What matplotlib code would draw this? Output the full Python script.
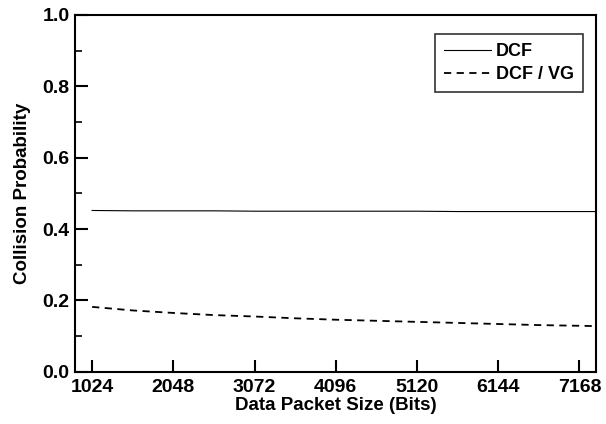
import matplotlib.pyplot as plt
import numpy as np
from matplotlib.ticker import MultipleLocator

# packet sizes (bits) and collision probabilities
packetSize = [1024, 1536, 2048, 2560, 3072, 3584, 4096, 4608, 5120, 5632, 6144, 6656, 7168, 7424]
dcf = [0.452, 0.451, 0.451, 0.451, 0.450, 0.450, 0.450, 0.450, 0.450, 0.449, 0.449, 0.449, 0.449, 0.449]
dcfVg = [0.182, 0.172, 0.165, 0.159, 0.155, 0.150, 0.146, 0.143, 0.140, 0.137, 0.134, 0.131, 0.129, 0.128]
xTicks = [1024, 2048, 3072, 4096, 5120, 6144, 7168]

plt.rcParams['font.family'] = ['Liberation Sans', 'DejaVu Sans']
plt.rcParams['font.weight'] = 'bold'

fig, ax = plt.subplots(figsize=(6.06, 4.24), dpi=100)
fig.subplots_adjust(left=0.124, right=0.984, top=0.965, bottom=0.123)

ax.plot(packetSize, dcf, color='black', linewidth=0.8, label='DCF')
ax.plot(packetSize, dcfVg, color='black', linewidth=1.3, linestyle=(0, (4, 3)), label='DCF / VG')

ax.set_xlim(810, 7380)
ax.set_ylim(0, 1.0)
ax.set_xticks(xTicks)
ax.yaxis.set_major_locator(MultipleLocator(0.2))
ax.yaxis.set_minor_locator(MultipleLocator(0.1))
ax.yaxis.set_major_formatter(plt.FormatStrFormatter('%.1f'))

ax.tick_params(axis='both', which='major', direction='in', length=9, width=1.5, labelsize=14)
ax.tick_params(axis='y', which='minor', direction='in', length=5, width=1.2)
ax.tick_params(axis='x', which='major', pad=5)
ax.tick_params(axis='y', which='major', pad=4)
for side in ax.spines.values():
    side.set_linewidth(1.5)

ax.set_xlabel('Data Packet Size (Bits)', fontsize=13.5, fontweight='bold', labelpad=1)
ax.set_ylabel('Collision Probability', fontsize=13.5, fontweight='bold', labelpad=8)

leg = ax.legend(loc='upper right', fontsize=13, frameon=True, fancybox=False,
                edgecolor='black', borderpad=0.5, handlelength=2.6, handletextpad=0.3,
                labelspacing=0.35, bbox_to_anchor=(0.992, 0.972))
leg.get_frame().set_linewidth(1.2)

fig.savefig('out.png')
